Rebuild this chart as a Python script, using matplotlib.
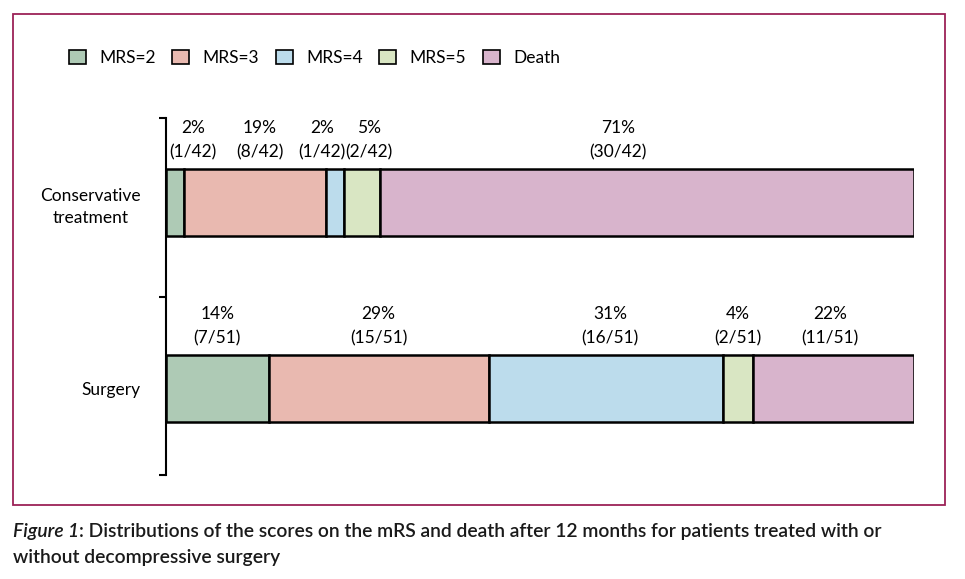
import matplotlib
matplotlib.use("Agg")
import matplotlib.pyplot as plt
from matplotlib.patches import Rectangle, Patch
from matplotlib.transforms import offset_copy
import numpy as np

groups = ["Conservative\ntreatment", "Surgery"]
categories = ["MRS=2", "MRS=3", "MRS=4", "MRS=5", "Death"]
colors = ["#aecab5", "#e9b9b0", "#bcdcec", "#d9e6c3", "#d8b4cc"]
counts = {
    "Conservative\ntreatment": [1, 8, 1, 2, 30],
    "Surgery": [7, 15, 16, 2, 11],
}
totals = {"Conservative\ntreatment": 42, "Surgery": 51}
pct_labels = {
    "Conservative\ntreatment": ["2%", "19%", "2%", "5%", "71%"],
    "Surgery": ["14%", "29%", "31%", "4%", "22%"],
}
# horizontal nudges (pixels) of the labels, to avoid overlap
label_shift_px = {
    "Conservative\ntreatment": [18, 5, -13, 7, -29],
    "Surgery": [0, 0, 4, 0, -3],
}

W, H = 965, 579
fig = plt.figure(figsize=(W / 100, H / 100), dpi=100)
FONT = ["Lato", "DejaVu Sans"]

ax = fig.add_axes([166 / W, 1 - 475 / H, (914 - 166) / W, (475 - 118) / H])
ax.set_xlim(0, 1)
ax.set_ylim(2, 0)

ypos = [0.473, 1.515]
bar_h = 0.375
for yi, g in zip(ypos, groups):
    left = 0.0
    tot = totals[g]
    for c, col, n, p, dx in zip(categories, colors, counts[g], pct_labels[g], label_shift_px[g]):
        w = n / tot
        ax.barh(yi, w, left=left, height=bar_h, color=col, edgecolor="black", linewidth=1.8)
        cx = left + w / 2
        top = yi - bar_h / 2
        tr1 = offset_copy(ax.transData, fig=fig, x=dx, y=41, units="dots")
        tr2 = offset_copy(ax.transData, fig=fig, x=dx, y=17, units="dots")
        ax.text(cx, top, p, ha="center", va="center", fontsize=12.5, family=FONT, transform=tr1)
        ax.text(cx, top, f"({n}/{tot})", ha="center", va="center", fontsize=12.5, family=FONT, transform=tr2)
        left += w

for s in ["top", "right", "bottom"]:
    ax.spines[s].set_visible(False)
ax.spines["left"].set_linewidth(1.5)
ax.set_xticks([])
ax.set_yticks(ypos)
ax.set_yticklabels(groups, fontsize=12.5, family=FONT, multialignment="center", linespacing=1.5)
ax.tick_params(axis="y", which="major", length=0, pad=18)
ax.set_yticks([0, 1, 2], minor=True)
ax.tick_params(axis="y", which="minor", length=5, width=1.5, direction="out")
ax.patch.set_alpha(0)

handles = [Patch(facecolor=c, edgecolor="black", linewidth=1.2) for c in colors]
fig.legend(handles, categories, loc="center left", bbox_to_anchor=(53 / W, 1 - 58 / H),
           ncol=5, frameon=False, prop={"family": FONT, "size": 12.5},
           handlelength=1.0, handleheight=0.8, handletextpad=0.75, columnspacing=0.95)

frame = Rectangle((13 / W, 1 - 505 / H), (945 - 13) / W, (505 - 14) / H,
                  transform=fig.transFigure, fill=False, edgecolor="#9c2257", linewidth=1.3)
fig.patches.append(frame)

CAP = ["Lato", "DejaVu Sans"]
cap1 = ": Distributions of the scores on the mRS and death after 12 months for patients treated with or"
cap2 = "without decompressive surgery"
fs = 15
t1 = fig.text(13 / W, 1 - 531 / H, "Figure 1", fontsize=fs, style="italic", family=CAP,
              weight="semibold", va="center", color="#1a1a1a")
fig.canvas.draw()
bb = t1.get_window_extent()
t2 = fig.text(bb.x1 / W, 1 - 531 / H, cap1, fontsize=fs, family=CAP, weight="semibold",
              va="center", color="#1a1a1a")
fig.canvas.draw()
total_w = t2.get_window_extent().x1 - 13
scale = (887 - 13) / total_w
fs2 = fs * scale
t1.set_fontsize(fs2)
fig.canvas.draw()
bb = t1.get_window_extent()
t2.set_fontsize(fs2)
t2.set_x(bb.x1 / W)
fig.text(13 / W, 1 - 557 / H, cap2, fontsize=fs2, family=CAP, weight="semibold",
         va="center", color="#1a1a1a")

fig.savefig("out.png", dpi=100)
